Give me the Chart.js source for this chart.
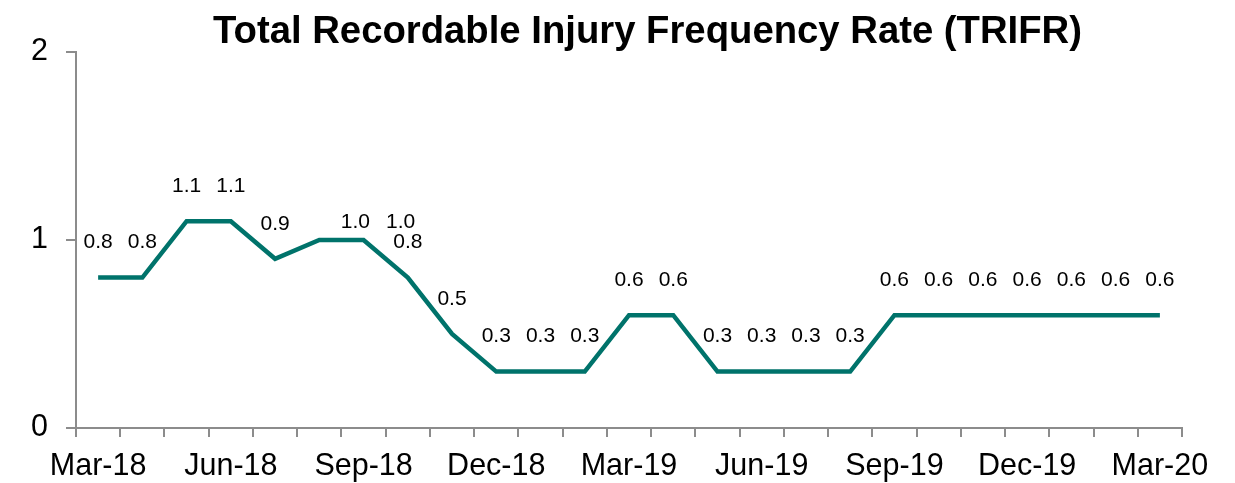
<!DOCTYPE html>
<html>
<head>
<meta charset="utf-8">
<script src="https://cdn.jsdelivr.net/npm/chart.js@4/dist/chart.umd.min.js"></script>
<style>
html,body{margin:0;padding:0;background:#fff;}
#wrap{width:1235px;height:483px;position:relative;}
</style>
</head>
<body>
<div id="wrap"><canvas id="c" width="1235" height="483"></canvas></div>
<script>
const titleText = 'Total Recordable Injury Frequency Rate (TRIFR)';
const categories = ['Mar-18','Apr-18','May-18','Jun-18','Jul-18','Aug-18','Sep-18','Oct-18','Nov-18','Dec-18','Jan-19','Feb-19','Mar-19','Apr-19','May-19','Jun-19','Jul-19','Aug-19','Sep-19','Oct-19','Nov-19','Dec-19','Jan-20','Feb-20','Mar-20'];
const trifr = [0.8,0.8,1.1,1.1,0.9,1.0,1.0,0.8,0.5,0.3,0.3,0.3,0.6,0.6,0.3,0.3,0.3,0.3,0.6,0.6,0.6,0.6,0.6,0.6,0.6];
const yTicks = [0,1,2];
const shownTickLabels = ['Mar-18','Jun-18','Sep-18','Dec-18','Mar-19','Jun-19','Sep-19','Dec-19','Mar-20'];

// label nudges (style only) for overlapping labels
const labelNudge = {5:[36,17], 6:[37,17]};

const FONT = '"Liberation Sans", Arial, sans-serif';
const axisGrey = '#8c8c8c';

const titlePlugin = {
  id: 'customTitle',
  afterDraw(chart) {
    const ctx = chart.ctx;
    ctx.save();
    ctx.font = 'bold 39px ' + FONT;
    const w = ctx.measureText(titleText).width;
    const target = 869;
    const sx = target / w;
    ctx.translate(647.5, 43);
    ctx.scale(sx, 1);
    ctx.fillStyle = '#000';
    ctx.textAlign = 'center';
    ctx.textBaseline = 'alphabetic';
    ctx.fillText(titleText, 0, 0);
    ctx.restore();
  }
};

const labelPlugin = {
  id: 'valueLabels',
  afterDatasetsDraw(chart) {
    const ctx = chart.ctx;
    const meta = chart.getDatasetMeta(0);
    ctx.save();
    ctx.font = '21px ' + FONT;
    ctx.fillStyle = '#000';
    ctx.textAlign = 'center';
    ctx.textBaseline = 'middle';
    meta.data.forEach((pt, i) => {
      const v = chart.data.datasets[0].data[i];
      const n = labelNudge[i] || [0,0];
      ctx.fillText(v.toFixed(1), pt.x + n[0], pt.y - 35 + n[1]);
    });
    ctx.restore();
  }
};

new Chart(document.getElementById('c'), {
  type: 'line',
  data: {
    labels: categories,
    datasets: [{
      data: trifr,
      borderColor: '#00736B',
      borderWidth: 4.5,
      pointRadius: 0,
      pointHoverRadius: 0,
      tension: 0,
      fill: false,
      borderCapStyle: 'butt',
      borderJoinStyle: 'miter'
    }]
  },
  options: {
    responsive: false,
    animation: false,
    events: [],
    layout: { padding: { top: 52, right: 53, bottom: 0, left: 0 } },
    plugins: { legend: { display: false }, title: { display: false }, tooltip: { enabled: false } },
    scales: {
      x: {
        type: 'category',
        offset: true,
        afterFit(scale) { scale.height = 55; },
        border: { display: true, color: axisGrey, width: 2 },
        grid: { offset: true, drawOnChartArea: false, drawTicks: true, tickLength: 9, color: axisGrey, lineWidth: 2 },
        ticks: {
          autoSkip: false,
          maxRotation: 0,
          minRotation: 0,
          padding: 11,
          color: '#000',
          font: { family: FONT, size: 30.5 },
          callback(val, idx) {
            const l = categories[idx];
            return shownTickLabels.includes(l) ? l : '';
          }
        }
      },
      y: {
        min: 0,
        max: 2,
        afterFit(scale) { scale.width = 76; },
        afterBuildTicks(scale) { scale.ticks = yTicks.map(v => ({ value: v })); },
        border: { display: true, color: axisGrey, width: 2 },
        grid: { drawOnChartArea: false, drawTicks: true, tickLength: 10, color: axisGrey, lineWidth: 2 },
        ticks: {
          padding: 18,
          color: '#000',
          font: { family: FONT, size: 30.5 },
          callback(v) { return String(v); }
        }
      }
    }
  },
  plugins: [titlePlugin, labelPlugin]
});
</script>
</body>
</html>
